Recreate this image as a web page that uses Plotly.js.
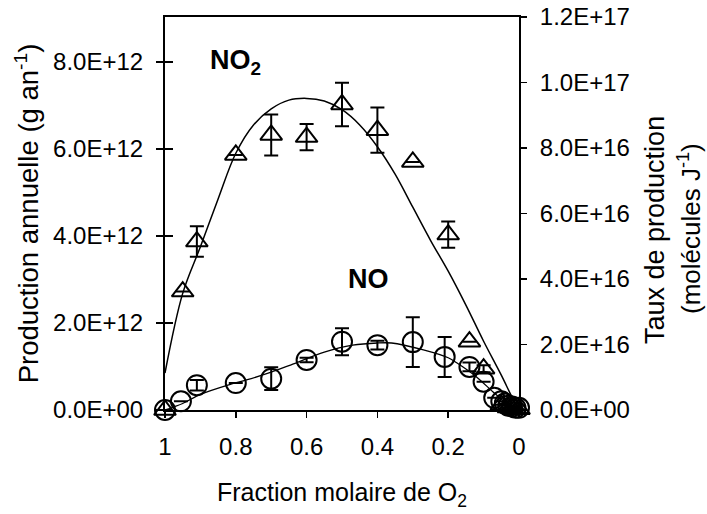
<!DOCTYPE html>
<html>
<head>
<meta charset="utf-8">
<script src="https://cdn.plot.ly/plotly-3.0.1.min.js"></script>
<style>html,body{margin:0;padding:0;background:#fff;}#chart{width:707px;height:514px;}</style>
</head>
<body>
<div id="chart"></div>
<script>
// Measured points (x = fraction molaire de O2, y = production annuelle, g/an)
const no2X   = [1, 0.95, 0.91, 0.8, 0.7, 0.6, 0.5, 0.4, 0.3, 0.2, 0.14, 0.1, 0.05, 0.03, 0.02, 0.01, 0];
const no2Y   = [0, 2.72e12, 3.87e12, 5.86e12, 6.32e12, 6.27e12, 7.02e12, 6.43e12, 5.70e12, 4.03e12, 1.57e12, 0.95e12, 0.12e12, 0.06e12, 0.05e12, 0.03e12, 0.02e12];
const no2Err = [0, 0, 0.35e12, 0, 0.47e12, 0.30e12, 0.50e12, 0.52e12, 0, 0.30e12, 0, 0.08e12, 0, 0, 0, 0, 0];

const noX   = [1, 0.955, 0.91, 0.8, 0.7, 0.6, 0.5, 0.4, 0.3, 0.21, 0.14, 0.1, 0.07, 0.05, 0.04, 0.03, 0.02, 0.01, 0];
const noY   = [0, 0.2e12, 0.57e12, 0.62e12, 0.72e12, 1.15e12, 1.57e12, 1.49e12, 1.56e12, 1.22e12, 0.99e12, 0.65e12, 0.28e12, 0.2e12, 0.15e12, 0.1e12, 0.08e12, 0.05e12, 0.05e12];
const noErr = [0, 0, 0.12e12, 0, 0.26e12, 0.05e12, 0.31e12, 0.10e12, 0.57e12, 0.46e12, 0.10e12, 0, 0, 0, 0, 0, 0, 0, 0];

// Fitted curves
const no2FitX = [1, 0.95, 0.9, 0.85, 0.8, 0.75, 0.7, 0.65, 0.6, 0.55, 0.5, 0.45, 0.4, 0.35, 0.3, 0.25, 0.2, 0.15, 0.1, 0.05, 0.02, 0];
const no2FitY = [0.85e12, 2.68e12, 3.75e12, 4.85e12, 5.9e12, 6.55e12, 6.92e12, 7.12e12, 7.16e12, 7.1e12, 6.9e12, 6.55e12, 6.05e12, 5.42e12, 4.66e12, 3.9e12, 3.19e12, 2.41e12, 1.58e12, 0.8e12, 0.3e12, 0];

const noFitX = [1, 0.95, 0.9, 0.82, 0.77, 0.7, 0.65, 0.55, 0.47, 0.4, 0.36, 0.27, 0.2, 0.175, 0.12, 0.07, 0.03, 0];
const noFitY = [0, 0.15e12, 0.36e12, 0.58e12, 0.69e12, 0.87e12, 1.02e12, 1.33e12, 1.49e12, 1.54e12, 1.54e12, 1.38e12, 1.2e12, 1.08e12, 0.76e12, 0.39e12, 0.12e12, 0];

// Axis ticks
const xTickVals = [1, 0.8, 0.6, 0.4, 0.2, 0];
const xTickText = ["1", "0.8", "0.6", "0.4", "0.2", "0"];
const yTickVals = [0, 2e12, 4e12, 6e12, 8e12];
const yTickText = ["0.0E+00", "2.0E+12", "4.0E+12", "6.0E+12", "8.0E+12"];
const y2TickVals = [0, 2e16, 4e16, 6e16, 8e16, 1e17, 1.2e17];
const y2TickText = ["0.0E+00", "2.0E+16", "4.0E+16", "6.0E+16", "8.0E+16", "1.0E+17", "1.2E+17"];

const FONT = "Liberation Sans, Arial, sans-serif";
const Y_MAX = 9.03e12;

const traces = [
  {x: no2FitX, y: no2FitY, mode: "lines", line: {color: "#000", width: 1.5, shape: "spline", smoothing: 1}, hoverinfo: "skip", showlegend: false},
  {x: noFitX, y: noFitY, mode: "lines", line: {color: "#000", width: 1.3, shape: "spline", smoothing: 0.8}, hoverinfo: "skip", showlegend: false},
  {x: no2X, y: no2Y, mode: "markers", name: "NO2", cliponaxis: false,
   marker: {symbol: "triangle-up-open", size: 19, color: "#000", line: {width: 2, color: "#000"}},
   error_y: {type: "data", array: no2Err, visible: true, color: "#000", thickness: 2, width: 7}, showlegend: false},
  {x: noX, y: noY, mode: "markers", name: "NO", cliponaxis: false,
   marker: {symbol: "circle-open", size: 20, color: "#000", line: {width: 2, color: "#000"}},
   error_y: {type: "data", array: noErr, visible: true, color: "#000", thickness: 2, width: 7}, showlegend: false},
  {x: [0.5], y: [0], yaxis: "y2", mode: "markers", marker: {opacity: 0}, hoverinfo: "skip", showlegend: false},
  {x: [0.5], y: [0], yaxis: "y3", mode: "markers", marker: {opacity: 0}, hoverinfo: "skip", showlegend: false}
];

const M = {l: 165, r: 188, t: 17, b: 104};
const plotW = 707 - M.l - M.r;
const plotH = 514 - M.t - M.b;

const layout = {
  width: 707, height: 514,
  margin: M,
  paper_bgcolor: "#fff", plot_bgcolor: "#fff",
  font: {family: FONT, size: 24, color: "#000"},
  showlegend: false,
  xaxis: {
    range: [1, 0], tickvals: xTickVals, ticktext: xTickText,
    showgrid: false, zeroline: false, showline: true, linewidth: 2, linecolor: "#000", mirror: true,
    ticks: "outside", ticklen: 6, tickwidth: 1.5, tickcolor: "#000", ticklabelstandoff: 8,
    tickfont: {family: FONT, size: 24, color: "#000"},
    title: {text: "Fraction molaire de O<sub>2</sub>", font: {family: FONT, size: 25, color: "#000"}, standoff: 25}
  },
  yaxis: {
    range: [0, Y_MAX], tickvals: yTickVals, ticktext: yTickText,
    showgrid: false, zeroline: false, showline: true, linewidth: 2, linecolor: "#000",
    ticks: "outside", ticklen: 7, tickwidth: 1.5, tickcolor: "#000", ticklabelstandoff: 8,
    tickfont: {family: FONT, size: 24, color: "#000"},
    title: {text: "Production annuelle (g an<sup>-1</sup>)", font: {family: FONT, size: 27.5, color: "#000"}, standoff: 6}
  },
  yaxis2: {
    overlaying: "y", side: "right", anchor: "x",
    range: [0, 1.2e17], tickvals: y2TickVals, ticktext: y2TickText,
    showgrid: false, zeroline: false, showline: true, linewidth: 2, linecolor: "#000",
    ticks: "outside", ticklen: 6, tickwidth: 1.5, tickcolor: "#000", ticklabelstandoff: 8,
    tickfont: {family: FONT, size: 24, color: "#000"}
  },
  yaxis3: {
    overlaying: "y", side: "left", anchor: "x",
    range: [0, Y_MAX], tickvals: yTickVals, showticklabels: false,
    showgrid: false, zeroline: false, showline: false,
    ticks: "inside", ticklen: 8, tickwidth: 1.5, tickcolor: "#000"
  },
  annotations: [
    {x: 0.8, y: 8.0e12, xref: "x", yref: "y", text: "<b>NO<sub>2</sub></b>", showarrow: false,
     font: {family: FONT, size: 27, color: "#000"}, xanchor: "center", yanchor: "middle"},
    {x: 0.424, y: 3.0e12, xref: "x", yref: "y", text: "<b>NO</b>", showarrow: false,
     font: {family: FONT, size: 27, color: "#000"}, xanchor: "center", yanchor: "middle"},
    {x: (655 - M.l) / plotW, y: (514 - M.b - 230) / plotH, xref: "paper", yref: "paper",
     text: "Taux de production", textangle: -90, showarrow: false,
     font: {family: FONT, size: 27, color: "#000"}, xanchor: "center", yanchor: "middle"},
    {x: (690 - M.l) / plotW, y: (514 - M.b - 229) / plotH, xref: "paper", yref: "paper",
     text: "(molécules J<sup>-1</sup>)", textangle: -90, showarrow: false,
     font: {family: FONT, size: 26, color: "#000"}, xanchor: "center", yanchor: "middle"}
  ]
};

Plotly.newPlot("chart", traces, layout, {staticPlot: true, displayModeBar: false});
</script>
</body>
</html>
